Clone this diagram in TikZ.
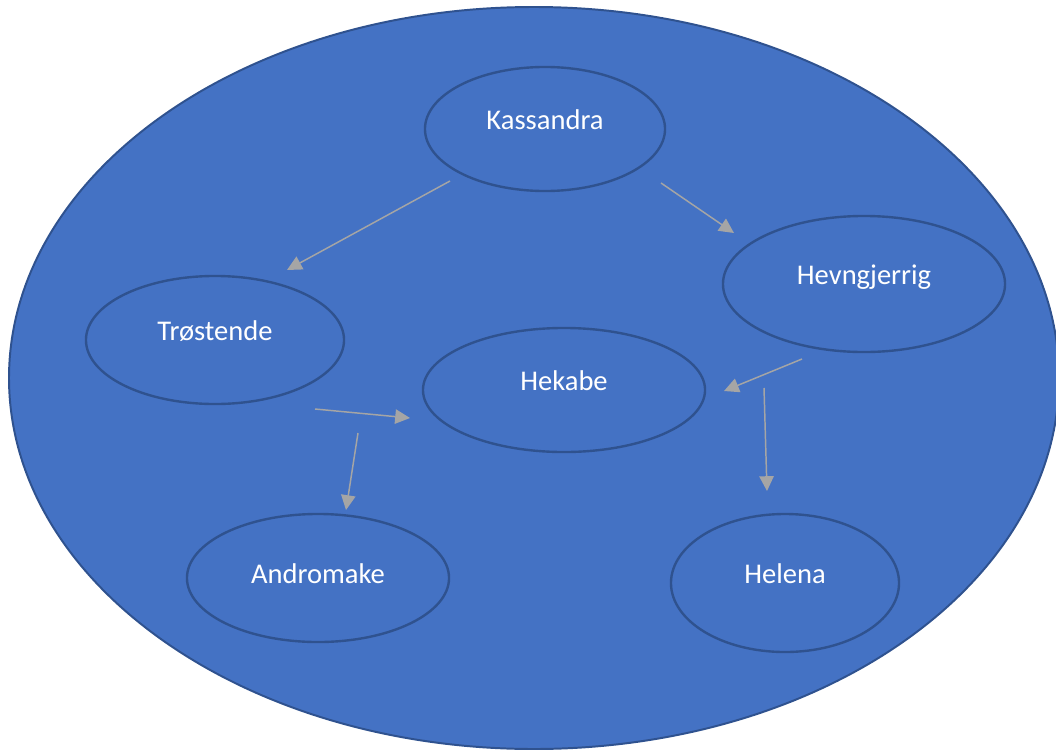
\documentclass[tikz,border=0pt]{standalone}
\usepackage{fontspec}
\setmainfont{Carlito}
\usetikzlibrary{shapes.geometric,arrows.meta,calc}
\definecolor{trojablue}{HTML}{4472C4}
\definecolor{trojaedge}{HTML}{2F528F}
\definecolor{trojagrey}{HTML}{A5A5A5}
\begin{document}
\begin{tikzpicture}[x=0.025cm, y=-0.025cm,
  role/.style={ellipse, draw=trojaedge, line width=1.7pt, fill=trojablue, inner sep=0pt,
    text=white, font=\fontsize{20.3}{24}\selectfont, text height=0.5cm, text depth=0.5cm},
  link/.style={draw=trojagrey, line width=1.05pt, -{Triangle[length=0.37cm, width=0.36cm]}}]
\useasboundingbox (0,0) rectangle (1056,749);
% outer ring of the women of Troy
\filldraw[fill=trojablue, draw=trojaedge, line width=1.4pt] (534,378) ellipse [x radius=525, y radius=371];
\node[role, minimum width=6cm, minimum height=3.1cm] (kas) at (545,129) {Kassandra};
\node[role, minimum width=7.05cm, minimum height=3.4cm] (hev) at (864,284) {Hevngjerrig};
\node[role, minimum width=6.45cm, minimum height=3.2cm] (tro) at (215,340) {Trøstende};
\node[role, minimum width=7.05cm, minimum height=3.1cm] (hek) at (564,390) {Hekabe};
\node[role, minimum width=6.55cm, minimum height=3.2cm, text depth=0.25cm] (and) at (318,578) {Andromake};
\node[role, minimum width=5.7cm, minimum height=3.45cm] (hel) at (785,583) {Helena};
% free-floating arrows
\draw[link] ($(kas)+(-95,52)$) -- ($(tro)+(72,-70)$);
\draw[link] ($(kas)+(116,54)$) -- ($(hev)+(-130,-51)$);
\draw[link] ($(hev)+(-62,75)$) -- ($(hek)+(160,1)$);
\draw[link] ($(hev)+(-100,104)$) -- ($(hel)+(-18,-92)$);
\draw[link] ($(tro)+(100,69)$) -- ($(hek)+(-154,28)$);
\draw[link] ($(tro)+(143,93)$) -- ($(and)+(28,-68)$);
\end{tikzpicture}
\end{document}
